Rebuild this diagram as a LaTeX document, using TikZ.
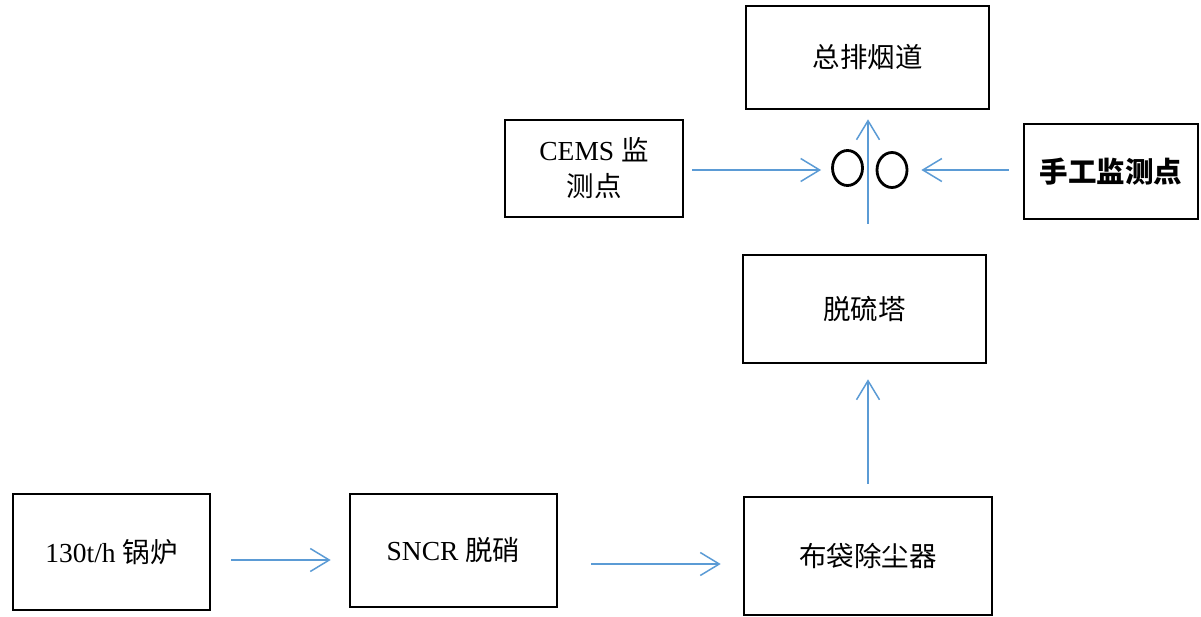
\documentclass[tikz,border=0pt]{standalone}
\usepackage{fontspec}
\setmainfont{Liberation Serif}
\newfontfamily\cjk{Noto Sans CJK SC}
\usetikzlibrary{calc, arrows.meta, shapes.geometric}

\definecolor{flowblue}{HTML}{5B9BD5}
\tikzset{
  box/.style={draw, line width=2.6pt, inner sep=0pt, align=center,
    font=\fontsize{27.5}{36}\selectfont},
  flow/.style={draw=flowblue, line width=1.5pt,
    -{Straight Barb[length=19pt,width=23pt,line width=1.5pt]}},
  port/.style={draw, ellipse, line width=2.8pt, inner sep=0pt,
    minimum width=30pt, minimum height=35pt}
}

\begin{document}
\begin{tikzpicture}[x=1pt,y=-1pt]
      \useasboundingbox (0,0) rectangle (1201,616);

      \node[box, minimum width=197pt, minimum height=116pt] (boiler) at (111.5,552) {130t/h {\cjk 锅炉}};
      \node[box, minimum width=207pt, minimum height=113pt] (sncr) at (453.5,550.5) {SNCR {\cjk 脱硝}};
      \node[box, minimum width=248pt, minimum height=118pt] (bag) at (868,556) {\cjk 布袋除尘器};
      \node[box, minimum width=243pt, minimum height=108pt] (tuo) at (864.5,309) {\cjk 脱硫塔};
      \node[box, minimum width=243pt, minimum height=103pt] (zong) at (867.5,57.5) {\cjk 总排烟道};
      \node[box, minimum width=178pt, minimum height=97pt] (cems) at (594,168.5) {CEMS {\cjk 监}\\{\cjk 测点}};
      \node[box, minimum width=174pt, minimum height=95pt, font=\fontsize{28.5}{36}\selectfont\cjk\bfseries] (manual) at (1111,171.5) {手工监测点};

      \node[port] (c1) at (847.5,168) {};
      \node[port] (c2) at (892,170) {};

      % flue gas path
      \draw[flow, shorten <=20pt, shorten >=18pt] ([yshift=-8pt]boiler.east) -- ([yshift=-8pt]boiler.east -| sncr.west);
      \draw[flow, shorten <=33pt, shorten >=22pt] ([yshift=-13.5pt]sncr.east) -- ([yshift=-13.5pt]sncr.east -| bag.west);
      \draw[flow, shorten <=12pt, shorten >=15pt] (bag.north) -- (bag.north |- tuo.south);
      \draw[flow, shorten <=30pt, shorten >=9pt] ([xshift=0.5pt]tuo.north -| zong.south) -- ([xshift=0.5pt]zong.south);

      % monitoring points
      \draw[flow, shorten <=8pt, shorten >=10pt] ([yshift=-1.5pt]cems.east) -- ([yshift=-1.5pt]cems.east -| c1.west);
      \draw[flow, shorten <=14pt, shorten >=13pt] ([yshift=1.5pt]manual.west) -- ([yshift=1.5pt]manual.west -| c2.east);
\end{tikzpicture}
\end{document}
